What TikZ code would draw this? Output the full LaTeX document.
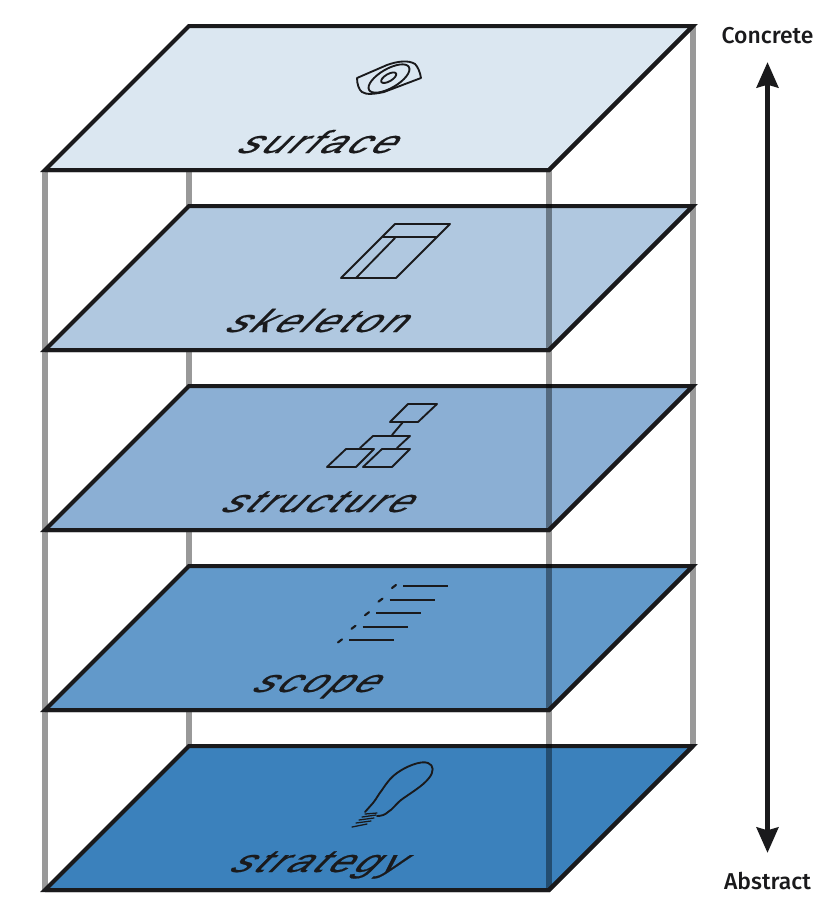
\documentclass[tikz,border=0pt]{standalone}
\usepackage{fontspec}
\newfontfamily\layerfont[FakeBold=0.6,LetterSpace=9]{Liberation Sans}
\newfontfamily\sidefont{Fira Sans Medium}
\usetikzlibrary{arrows.meta}
\definecolor{edgeblk}{HTML}{1A1A1C}
\definecolor{postgray}{HTML}{999999}
\definecolor{pA}{HTML}{DBE7F1}
\definecolor{pB}{HTML}{B0C8E0}
\definecolor{pC}{HTML}{8BAFD4}
\definecolor{pD}{HTML}{6299CA}
\definecolor{pE}{HTML}{3B81BC}
\tikzset{
  x=0.75pt,y=-0.75pt,
  post/.style={draw=postgray,line width=4.5pt,line cap=butt},
  plane/.style={draw=edgeblk,line width=3pt,line join=miter},
  icon/.style={draw=edgeblk,line width=1.4pt,line join=round,line cap=round},
  layerlabel/.style={font=\layerfont\fontsize{24}{24}\selectfont,text=edgeblk,inner sep=0pt,anchor=base,
     transform shape,xslant=1.0,xscale=1.27},
  sidelabel/.style={font=\sidefont\fontsize{17.2}{19}\selectfont,text=edgeblk,inner sep=0pt},
}
\newcommand{\layerplane}[2]{%
  \draw[plane,fill=#1] (189,#2) -- (693,#2) -- (549,#2+144) -- (45,#2+144) -- cycle;}
\begin{document}
\begin{tikzpicture}
\useasboundingbox (0,0) rectangle (826,903);
\fill[white] (0,0) rectangle (826,903);
% posts behind the planes
\draw[post] (189,26) -- (189,746);
\draw[post] (693,26) -- (693,746);
\draw[post] (45,170) -- (45,890);
% planes, lowest first
\layerplane{pE}{746}
\layerplane{pD}{566}
\layerplane{pC}{386}
\layerplane{pB}{206}
\layerplane{pA}{26}
% front post, multiplied over the planes
\draw[post,blend mode=multiply] (549,170) -- (549,890);
\foreach \yy in {26,206,386,566,746}{
  \draw[plane] (45,\yy+144) -- (549,\yy+144) -- (693,\yy);
}
% labels
\node[layerlabel] (surface) at (312,153) {surface};
\node[layerlabel] (skeleton) at (311,332) {skeleton};
\node[layerlabel] (structure) at (312,512) {structure};
\node[layerlabel] (scope) at (311,692) {scope};
\node[layerlabel] (strategy) at (312,872) {strategy};
% surface icon
\draw[icon] (357,78) .. controls (357,84) and (359,90) .. (362,92) .. controls (366,95) and (375,94) .. (384,92)
  -- (421,78) .. controls (420,72) and (418,67) .. (415,64) .. controls (409,60) and (398,61) .. (387,65) -- cycle;
\draw[icon,rotate around={30:(389,78.5)}] (389,78.5) ellipse [x radius=23,y radius=9.5];
\draw[icon,rotate around={30:(388.7,77.7)}] (388.7,77.7) ellipse [x radius=8.5,y radius=3.6];
% skeleton icon
\draw[icon] (341,278) -- (395,224) -- (450,224) -- (396,278) -- cycle;
\draw[icon] (383,237) -- (437,237);
\draw[icon] (356,278) -- (395,238);
% structure icon
\draw[icon] (390,422) -- (408,404) -- (437,404) -- (418,422) -- cycle;
\draw[icon] (403,422) -- (392,435);
\draw[icon] (360,448) -- (373,436) -- (410,436) -- (397,448);
\draw[icon] (327,467) -- (346,449) -- (374,449) -- (356,467) -- cycle;
\draw[icon] (363,467) -- (382,449) -- (410,449) -- (392,467) -- cycle;
% scope icon
\foreach \i in {0,...,4}{
  \draw[icon,line width=1.6pt] (392-\i*13.5,588+\i*13.6) -- (396-\i*13.5,585+\i*13.6);
  \draw[icon,line width=1.6pt,line cap=butt] (403-\i*13.5,586+\i*13.6) -- (448-\i*13.5,586+\i*13.6);
}
% strategy icon
\draw[icon] (365,812) -- (373,803) .. controls (377,798) and (378,795) .. (382,790)
  .. controls (386,784) and (390,778) .. (397,773) .. controls (405,767) and (421,760) .. (428,763)
  .. controls (434,765) and (434,772) .. (429,778) .. controls (423,786) and (409,794) .. (401,800)
  .. controls (395,805) and (393,809) .. (388,812) .. controls (385,815) and (381,816) .. (377,816);
\draw[icon,line width=0.95pt] (365,814) -- (377,813);
\draw[icon,line width=0.95pt] (362,817) -- (376,815);
\draw[icon,line width=0.95pt] (359,820) -- (374,818);
\draw[icon,line width=0.95pt] (356,823) -- (371,821);
\draw[icon,line width=0.95pt] (352,827) -- (367,824);
% side axis
\node[sidelabel] (concrete) at (767.5,36) {Concrete};
\node[sidelabel] (abstract) at (767.5,881) {Abstract};
\draw[draw=edgeblk,line width=4.4pt,{Stealth[length=19pt,width=16pt,inset=2pt]}-{Stealth[length=19pt,width=16pt,inset=2pt]},shorten <=19.5pt,shorten >=21pt]
  (concrete.center) -- (abstract.center);
\end{tikzpicture}
\end{document}
